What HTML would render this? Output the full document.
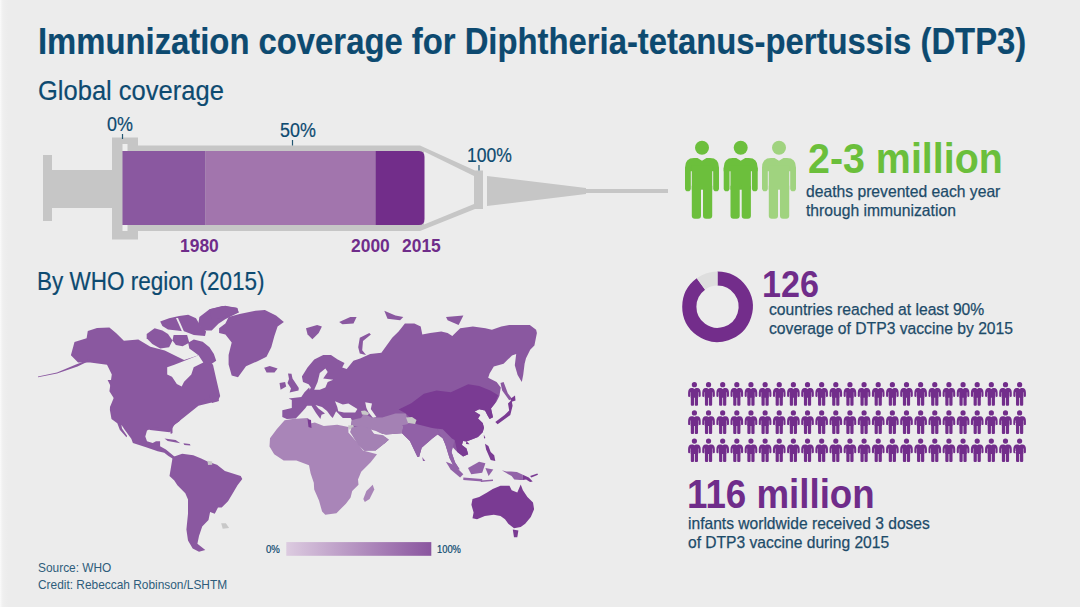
<!DOCTYPE html>
<html><head><meta charset="utf-8">
<style>
html,body{margin:0;padding:0;}
body{width:1080px;height:607px;background:#ececec;position:relative;overflow:hidden;font-family:"Liberation Sans",sans-serif;}
.t{position:absolute;white-space:nowrap;line-height:1;transform-origin:0 0;}
.b{font-weight:bold;}
.blue{color:#0d4a70;-webkit-text-stroke:0.2px #0d4a70;}
.body{color:#1d4b69;-webkit-text-stroke:0.25px #1d4b69;}
.src{color:#2e5d7b;}
.pur{color:#6f2c8a;}
.grn{color:#6bbf3b;}
svg{position:absolute;left:0;top:0;}
</style></head><body>
<div style="position:absolute;left:0;top:0;width:8px;height:607px;background:linear-gradient(to right,#fbfbfb 0px,#f4f4f4 1.5px,#efefef 3px,#ececec 8px)"></div>
<svg width="1080" height="607" viewBox="0 0 1080 607">
  <!-- syringe -->
  <g fill="#c6c6c6">
    <rect x="43" y="155" width="9" height="66"/>
    <rect x="52" y="170" width="60" height="38"/>
    <rect x="112" y="137.5" width="26" height="102"/>
    <path d="M122,145.5 L420,145.5 L475,170.5 L483,170.5 L483,209 L475,209 L420,231 L122,231 Z"/>
    <path d="M487,176 L586,188 L586,189 L668,189 L668,193 L586,193 L586,194 L487,206 Z"/>
  </g>
  <path d="M424,151.5 L474,176 L474,204 L424,224.5 Z" fill="#ececec"/>
  <rect x="122.5" y="144" width="5" height="7" fill="#eeeeee"/>
  <rect x="122.5" y="225" width="5" height="6" fill="#eeeeee"/>
  <rect x="122.5" y="151" width="83" height="74" fill="#8a58a0"/>
  <rect x="205.5" y="151" width="170" height="74" fill="#a275ad"/>
  <path d="M375.5,151 L419,151 Q424.5,151 424.5,157 L424.5,219 Q424.5,225 419,225 L375.5,225 Z" fill="#722d8a"/>
  <g stroke="#255873" stroke-width="1.2">
    <line x1="122.5" y1="134" x2="122.5" y2="139"/>
    <line x1="292.5" y1="140" x2="292.5" y2="145.5"/>
    <line x1="479" y1="165" x2="479" y2="170.5"/>
  </g>
  <!-- green people -->
  <defs><symbol id="pg" viewBox="-17.5 -7.5 35 79" overflow="visible">
<circle cx="0" cy="0" r="7"/>
<path d="M-17,20 Q-17,10.3 -8,10.3 L-4.5,10.3 L0,13 L4.5,10.3 L8,10.3 Q17,10.3 17,20 L17,23.5 L-17,23.5 Z"/>
<path d="M-17,20 L-11.2,20 L-11.2,40.5 Q-11.2,43.6 -14.1,43.6 Q-17,43.6 -17,40.5 Z"/>
<path d="M17,20 L11.2,20 L11.2,40.5 Q11.2,43.6 14.1,43.6 Q17,43.6 17,40.5 Z"/>
<rect x="-10.2" y="18" width="20.4" height="24"/>
<path d="M-10.2,38 L-1,38 L-1,68 Q-1,71 -4,71 L-7.2,71 Q-10.2,71 -10.2,68 Z"/>
<path d="M10.2,38 L1,38 L1,68 Q1,71 4,71 L7.2,71 Q10.2,71 10.2,68 Z"/>
</symbol></defs>
  <g fill="#6cbf3c">
    <use href="#pg" x="684.5" y="140.2" width="35" height="79"/>
    <use href="#pg" x="723.2" y="140.2" width="35" height="79"/>
  </g>
  <use href="#pg" x="761.5" y="140.2" width="35" height="79" fill="#a0d37f"/>
  <!-- grid --><defs><symbol id="pp" viewBox="-7 -3 14 24.5" overflow="visible">
<circle cx="0" cy="0" r="2.6"/>
<path d="M-6.3,8 Q-6.3,3.3 -2.8,3.3 L-1.5,3.3 L0,4.2 L1.5,3.3 L2.8,3.3 Q6.3,3.3 6.3,8 L6.3,11 Q6.3,12.2 5.2,12.2 Q4.2,12.2 4.2,11 L4.2,7.5 L3.8,7.5 L3.8,13 L3.6,13 L3.6,20 Q3.6,21 2.6,21 L1.2,21 Q0.4,21 0.4,20 L0.4,13 L-0.4,13 L-0.4,20 Q-0.4,21 -1.2,21 L-2.6,21 Q-3.6,21 -3.6,20 L-3.6,13 L-3.8,13 L-3.8,7.5 L-4.2,7.5 L-4.2,11 Q-4.2,12.2 -5.2,12.2 Q-6.3,12.2 -6.3,11 Z"/>
</symbol></defs><g fill="#722d8b"><use href="#pp" x="687.40" y="381.70" width="14" height="24.5"/><use href="#pp" x="701.54" y="381.70" width="14" height="24.5"/><use href="#pp" x="715.68" y="381.70" width="14" height="24.5"/><use href="#pp" x="729.82" y="381.70" width="14" height="24.5"/><use href="#pp" x="743.96" y="381.70" width="14" height="24.5"/><use href="#pp" x="758.10" y="381.70" width="14" height="24.5"/><use href="#pp" x="772.24" y="381.70" width="14" height="24.5"/><use href="#pp" x="786.38" y="381.70" width="14" height="24.5"/><use href="#pp" x="800.52" y="381.70" width="14" height="24.5"/><use href="#pp" x="814.66" y="381.70" width="14" height="24.5"/><use href="#pp" x="828.80" y="381.70" width="14" height="24.5"/><use href="#pp" x="842.94" y="381.70" width="14" height="24.5"/><use href="#pp" x="857.08" y="381.70" width="14" height="24.5"/><use href="#pp" x="871.22" y="381.70" width="14" height="24.5"/><use href="#pp" x="885.36" y="381.70" width="14" height="24.5"/><use href="#pp" x="899.50" y="381.70" width="14" height="24.5"/><use href="#pp" x="913.64" y="381.70" width="14" height="24.5"/><use href="#pp" x="927.78" y="381.70" width="14" height="24.5"/><use href="#pp" x="941.92" y="381.70" width="14" height="24.5"/><use href="#pp" x="956.06" y="381.70" width="14" height="24.5"/><use href="#pp" x="970.20" y="381.70" width="14" height="24.5"/><use href="#pp" x="984.34" y="381.70" width="14" height="24.5"/><use href="#pp" x="998.48" y="381.70" width="14" height="24.5"/><use href="#pp" x="1012.62" y="381.70" width="14" height="24.5"/><use href="#pp" x="687.40" y="409.90" width="14" height="24.5"/><use href="#pp" x="701.54" y="409.90" width="14" height="24.5"/><use href="#pp" x="715.68" y="409.90" width="14" height="24.5"/><use href="#pp" x="729.82" y="409.90" width="14" height="24.5"/><use href="#pp" x="743.96" y="409.90" width="14" height="24.5"/><use href="#pp" x="758.10" y="409.90" width="14" height="24.5"/><use href="#pp" x="772.24" y="409.90" width="14" height="24.5"/><use href="#pp" x="786.38" y="409.90" width="14" height="24.5"/><use href="#pp" x="800.52" y="409.90" width="14" height="24.5"/><use href="#pp" x="814.66" y="409.90" width="14" height="24.5"/><use href="#pp" x="828.80" y="409.90" width="14" height="24.5"/><use href="#pp" x="842.94" y="409.90" width="14" height="24.5"/><use href="#pp" x="857.08" y="409.90" width="14" height="24.5"/><use href="#pp" x="871.22" y="409.90" width="14" height="24.5"/><use href="#pp" x="885.36" y="409.90" width="14" height="24.5"/><use href="#pp" x="899.50" y="409.90" width="14" height="24.5"/><use href="#pp" x="913.64" y="409.90" width="14" height="24.5"/><use href="#pp" x="927.78" y="409.90" width="14" height="24.5"/><use href="#pp" x="941.92" y="409.90" width="14" height="24.5"/><use href="#pp" x="956.06" y="409.90" width="14" height="24.5"/><use href="#pp" x="970.20" y="409.90" width="14" height="24.5"/><use href="#pp" x="984.34" y="409.90" width="14" height="24.5"/><use href="#pp" x="998.48" y="409.90" width="14" height="24.5"/><use href="#pp" x="1012.62" y="409.90" width="14" height="24.5"/><use href="#pp" x="687.40" y="438.10" width="14" height="24.5"/><use href="#pp" x="701.54" y="438.10" width="14" height="24.5"/><use href="#pp" x="715.68" y="438.10" width="14" height="24.5"/><use href="#pp" x="729.82" y="438.10" width="14" height="24.5"/><use href="#pp" x="743.96" y="438.10" width="14" height="24.5"/><use href="#pp" x="758.10" y="438.10" width="14" height="24.5"/><use href="#pp" x="772.24" y="438.10" width="14" height="24.5"/><use href="#pp" x="786.38" y="438.10" width="14" height="24.5"/><use href="#pp" x="800.52" y="438.10" width="14" height="24.5"/><use href="#pp" x="814.66" y="438.10" width="14" height="24.5"/><use href="#pp" x="828.80" y="438.10" width="14" height="24.5"/><use href="#pp" x="842.94" y="438.10" width="14" height="24.5"/><use href="#pp" x="857.08" y="438.10" width="14" height="24.5"/><use href="#pp" x="871.22" y="438.10" width="14" height="24.5"/><use href="#pp" x="885.36" y="438.10" width="14" height="24.5"/><use href="#pp" x="899.50" y="438.10" width="14" height="24.5"/><use href="#pp" x="913.64" y="438.10" width="14" height="24.5"/><use href="#pp" x="927.78" y="438.10" width="14" height="24.5"/><use href="#pp" x="941.92" y="438.10" width="14" height="24.5"/><use href="#pp" x="956.06" y="438.10" width="14" height="24.5"/><use href="#pp" x="970.20" y="438.10" width="14" height="24.5"/><use href="#pp" x="984.34" y="438.10" width="14" height="24.5"/><use href="#pp" x="998.48" y="438.10" width="14" height="24.5"/><use href="#pp" x="1012.62" y="438.10" width="14" height="24.5"/></g><!--endgrid-->
  <!-- donut -->
  <path d="M717.5,278.5 A28.2,28.2 0 1 1 700.92,283.89" fill="none" stroke="#732d8b" stroke-width="14.2"/><path d="M700.92,283.89 A28.2,28.2 0 0 1 717.5,278.5" fill="none" stroke="#dedede" stroke-width="14.2"/>
  <g id="map"><path d="M87.8,331.1L97.0,328.0L109.4,327.5L116.0,333.0L123.9,340.7L138.3,339.5L150.4,346.8L164.8,350.4L174.4,355.2L184.1,360.0L198.5,355.2L206.0,358.0L213.0,364.8L216.0,378.0L220.2,396.1L217.8,400.9L198.5,405.7L174.4,425.0L169.6,432.2L150.0,430.0L115.0,400.0L109.4,391.3L111.8,374.4L107.0,364.8L90.2,362.4L78.1,362.4L70.9,355.2L74.5,341.9L86.6,338.3Z" fill="#8a58a0"/><path d="M38.0,376.4L57.0,372.5L76.0,364.6L90.2,359.0L91.0,360.1L77.5,366.5L57.0,373.6L38.0,377.2Z" fill="#8a58a0"/><path d="M199.4,317.0L209.5,309.2L225.2,305.8L237.5,308.1L238.6,312.6L225.2,319.3L218.4,323.8L211.7,330.5L202.7,330.5L198.3,323.8Z" fill="#8a58a0"/><path d="M160.2,321.5L169.1,318.2L179.2,315.9L188.2,314.8L196.0,318.2L200.5,326.0L206.1,331.6L205.0,336.1L193.8,335.0L184.8,331.6L177.0,330.5L168.0,329.4L162.4,326.0Z" fill="#8a58a0"/><path d="M176.0,318.0L178.0,318.0L186.0,336.0L184.0,336.0Z" fill="#ececec"/><path d="M188.2,342.8L193.8,339.5L202.7,341.7L209.5,347.3L213.9,354.0L216.2,360.7L209.5,365.2L202.7,358.5L193.8,351.8L189.3,348.4Z" fill="#8a58a0"/><path d="M146.7,333.9L154.6,328.3L162.4,330.5L168.0,333.9L172.5,340.6L169.1,347.3L160.2,348.4L152.3,343.9L146.7,338.3Z" fill="#8a58a0"/><path d="M173.6,335.0L187.1,335.0L189.3,342.8L182.6,346.2L175.9,345.1L172.5,340.6Z" fill="#8a58a0"/><path d="M107.6,380.0L112.3,389.5L113.9,397.4L110.0,406.9L109.9,410.0L111.5,419.1L117.3,423.2L119.8,429.8L126.4,437.2L127.2,436.0L122.0,428.5L121.4,424.8L124.7,429.8L131.3,438.8L132.9,443.0L145.3,447.1L157.7,451.2L164.3,452.8L168.4,456.1L174.1,459.4L175.6,457.5L165.9,449.5L160.1,446.2L160.1,441.3L156.0,441.3L152.7,443.0L147.0,441.3L145.3,436.4L147.0,430.6L152.7,428.1L159.3,427.3L169.2,427.3L170.8,433.9L172.5,433.1L172.5,425.7L179.1,421.5L186.6,411.6L194.5,406.9L202.5,400.6L208.0,399.0L208.0,380.0Z" fill="#8a58a0"/><path d="M164.5,438.5L175.6,440.1L180.3,443.3L167.7,440.9Z" fill="#8a58a0"/><path d="M183.5,443.3L189.8,444.0L190.6,445.6L184.3,445.1Z" fill="#8a58a0"/><path d="M209.0,395.0L217.0,393.0L219.0,401.0L212.0,403.0Z" fill="#8a58a0"/><path d="M167.2,367.2L174.4,364.8L186.5,360.0L198.5,355.2L203.3,362.4L193.7,367.2L191.3,374.4L184.1,381.7L181.7,386.5L176.8,384.1L172.0,376.8L167.2,374.4Z" fill="#ececec"/><path d="M219.1,328.2L225.4,323.5L228.6,317.1L239.6,314.0L255.4,310.8L264.9,310.0L276.0,315.6L283.9,321.9L277.6,326.6L274.4,336.1L271.3,347.2L266.5,356.7L257.0,361.4L246.0,366.2L238.0,377.2L231.7,375.6L228.6,364.6L228.6,355.1L231.7,342.4L225.4,334.5L219.1,333.0Z" fill="#8a58a0"/><path d="M209.6,309.2L222.2,306.1L236.5,307.7L238.8,312.4L228.6,315.6L217.5,318.7L211.2,318.7Z" fill="#8a58a0"/><path d="M306.0,328.2L317.1,325.0L321.9,326.6L318.7,333.0L312.4,339.3L307.6,334.5Z" fill="#8a58a0"/><path d="M339.2,321.9L350.3,317.1L356.6,317.1L353.5,323.5L342.4,324.3Z" fill="#8a58a0"/><path d="M358.2,347.2L359.8,337.7L369.3,333.0L370.9,334.5L363.0,340.9L362.2,350.3L366.1,355.1L359.8,353.5Z" fill="#8a58a0"/><path d="M264.2,367.7L269.7,366.1L277.6,368.5L274.5,372.4L266.6,372.4Z" fill="#8a58a0"/><path d="M288.0,373.5L291.5,373.8L292.5,378.6L295.5,383.0L298.8,388.0L298.5,390.5L289.6,392.6L291.0,388.5L287.5,383.0L289.0,379.0Z" fill="#8a58a0"/><path d="M279.5,383.1L285.1,382.0L286.2,386.5L280.6,389.8Z" fill="#8a58a0"/><path d="M384.3,310.8L395.4,315.6L403.3,317.1L400.1,320.3L387.5,318.7Z" fill="#8a58a0"/><path d="M446.0,317.1L463.4,315.6L458.6,325.0L447.6,320.3Z" fill="#8a58a0"/><path d="M309.7,389.8L310.9,387.6L308.6,384.2L303.0,382.0L301.9,376.4L307.5,367.4L314.2,359.6L323.2,355.1L331.0,355.1L337.7,359.6L344.5,362.9L342.2,367.4L346.7,369.1L353.4,360.7L360.2,358.4L370.2,354.0L381.4,352.8L392.2,337.7L398.6,331.4L404.9,323.5L414.4,323.5L420.7,326.6L422.3,334.5L430.2,333.0L441.3,331.4L447.6,333.0L452.3,336.1L460.2,328.2L472.9,326.6L485.5,328.2L491.9,329.8L501.3,326.6L509.2,325.0L520.3,325.0L529.8,325.0L536.1,329.8L536.9,333.0L534.4,345.6L530.2,349.8L526.0,358.2L524.6,363.8L523.2,375.0L521.8,382.0L517.6,375.0L514.8,365.2L516.2,354.0L512.0,355.4L507.8,359.6L503.6,363.8L493.8,366.6L489.6,373.6L488.2,377.8L496.6,382.0L500.8,387.6L499.4,396.0L496.6,401.6L491.0,408.6L493.0,417.3L489.6,419.0L487.3,415.0L485.0,410.4L479.2,409.2L474.6,411.5L480.3,415.0L478.0,418.4L482.7,423.1L484.0,427.7L482.7,432.3L478.0,436.9L472.3,439.2L466.5,441.5L463.1,440.9L461.9,445.0L466.5,448.4L468.2,454.2L463.1,456.5L457.3,451.9L452.7,447.3L451.5,451.9L455.0,462.2L459.6,469.2L456.5,469.5L453.8,466.4L449.5,458.0L445.5,445.1L442.8,438.5L437.5,434.5L432.3,438.5L421.7,447.7L419.1,457.0L417.5,457.0L409.9,441.1L402.0,433.2L386.1,434.5L379.5,433.2L388.8,439.8L375.6,450.4L365.2,450.5L359.6,441.5L350.7,428.1L351.8,420.3L350.7,418.0L342.8,418.0L336.1,411.3L335.0,413.5L332.7,418.0L330.5,415.8L327.0,411.0L322.0,407.0L315.5,405.0L318.5,408.5L325.0,413.5L321.5,414.7L320.4,419.1L316.0,413.0L311.5,405.7L307.0,405.7L305.5,408.0L301.0,413.0L295.8,418.5L286.8,419.1L282.3,416.9L282.3,410.2L291.8,408.0L291.8,400.1L288.7,398.5L301.3,396.9L304.5,392.2L309.2,387.4Z" fill="#8a58a0"/><path d="M319.8,373.0L325.4,368.5L327.7,371.9L323.2,378.6L333.3,379.7L327.7,382.0L325.4,387.6L319.8,389.8L314.2,389.8L317.6,382.0Z" fill="#ececec"/><path d="M335.0,401.2L342.8,404.6L348.4,403.4L357.4,409.0L355.2,412.4L344.0,412.4L338.3,411.3L337.2,406.8Z" fill="#ececec"/><path d="M365.2,402.3L372.0,403.4L370.8,409.0L376.4,416.9L373.1,418.0L368.6,412.4L366.4,407.9Z" fill="#ececec"/><path d="M370.5,429.5L376.0,431.0L383.0,434.5L386.0,436.5L381.0,437.0L374.0,434.0Z" fill="#ececec"/><path d="M503.6,382.0L507.8,393.2L512.0,398.8L509.2,400.2L502.2,390.4L500.5,383.0Z" fill="#8a58a0"/><path d="M351.8,420.3L356.0,419.0L361.0,418.0L364.0,413.5L371.6,417.4L382.2,417.4L395.4,413.5L405.9,413.5L408.5,424.0L403.3,426.6L402.0,433.2L386.1,434.5L379.5,433.2L370.3,430.6L363.7,428.0L357.1,426.6L351.0,425.5Z" fill="#a481b4"/><path d="M350.7,428.1L361.2,425.8L370.7,429.0L373.9,433.7L383.3,435.3L388.8,439.8L384.9,443.2L375.6,450.4L365.2,450.5L359.6,441.5Z" fill="#a481b4"/><path d="M370.5,429.5L376.0,431.0L383.0,434.5L386.0,436.5L381.0,437.0L374.0,434.0Z" fill="#ececec"/><path d="M402.0,425.3L408.5,424.0L416.5,424.0L432.3,428.0L437.5,429.3L440.2,434.5L437.5,434.5L432.3,438.5L421.7,447.7L419.1,457.0L417.5,457.0L409.9,441.1L402.0,433.2L403.3,426.6Z" fill="#9161a7"/><path d="M437.5,429.3L442.8,429.3L452.0,438.5L454.7,440.0L452.7,447.3L451.5,451.9L455.0,462.2L459.6,469.2L456.5,469.5L453.8,466.4L449.5,458.0L445.5,445.1L442.8,438.5L440.2,434.5Z" fill="#9263a8"/><path d="M398.6,409.6L411.3,403.3L423.9,393.8L436.6,390.6L450.8,392.2L468.2,384.3L479.2,385.9L490.3,390.6L498.2,395.3L495.1,403.3L491.0,408.6L493.0,417.3L489.6,419.0L487.3,415.0L485.0,410.4L479.2,409.2L474.6,411.5L480.3,415.0L478.0,418.4L482.7,423.1L484.0,427.7L482.7,432.3L478.0,436.9L472.3,439.2L466.5,441.5L463.1,440.9L461.9,445.0L466.5,448.4L468.2,454.2L463.1,456.5L457.3,451.9L454.7,440.0L452.0,438.5L442.8,429.3L432.3,428.0L416.5,424.0L405.9,413.5Z" fill="#7a3b93"/><path d="M361.0,411.0L365.0,410.5L369.0,413.0L368.0,415.0L362.0,414.5Z" fill="#c8c8c8"/><path d="M406.0,417.5L412.0,417.0L416.5,420.0L415.0,424.0L408.0,423.0Z" fill="#c8c8c8"/><path d="M348.0,425.5L353.0,425.0L354.5,428.5L349.0,429.5Z" fill="#c8c8c8"/><path d="M284.6,420.3L292.4,419.1L308.1,418.0L310.3,423.6L314.8,422.5L323.8,425.9L337.2,424.7L348.4,427.0L348.4,432.6L357.4,442.7L363.0,450.5L377.0,454.3L370.7,462.2L361.2,471.7L358.0,479.6L358.5,484.7L352.2,491.1L350.6,497.4L345.9,503.7L336.4,513.2L325.3,514.8L322.1,511.6L319.0,500.6L314.2,489.5L313.8,482.7L310.6,473.3L309.0,465.3L296.4,460.6L283.7,460.6L274.2,454.3L269.5,446.4L270.0,438.2L276.7,429.2Z" fill="#a985b8"/><path d="M363.3,499.0L366.4,491.1L372.7,484.7L374.3,489.5L369.6,499.0L364.8,502.1Z" fill="#a985b8"/><path d="M307.5,419.1L311.0,420.0L311.5,428.1L308.5,427.0Z" fill="#7a3b93"/><path d="M351.7,427.4L361.2,425.8L370.7,429.0L373.9,433.7L383.3,435.3L388.1,440.0L384.9,443.2L373.9,448.0L364.4,451.1L358.0,444.8L350.1,432.1Z" fill="#a481b4"/><path d="M172.7,456.9L182.2,453.7L193.3,455.3L201.2,458.5L207.5,461.6L217.0,464.8L224.9,471.1L240.7,475.9L242.3,479.0L237.5,485.3L232.8,493.3L228.0,501.2L221.7,507.5L218.0,507.4L214.8,513.7L210.1,512.1L208.5,520.0L202.2,526.4L199.0,535.9L197.4,543.8L205.3,550.1L199.0,551.7L192.7,548.5L188.0,540.6L186.4,529.5L188.0,513.7L188.0,499.5L185.3,493.3L177.4,485.3L174.3,480.6L169.5,475.9Z" fill="#8a58a0"/><path d="M221.2,523.2L225.9,523.2L229.1,528.0L222.7,528.7Z" fill="#c8c8c8"/><path d="M207.5,460.8L212.2,461.5L212.2,464.8L208.0,465.0Z" fill="#c8c8c8"/><path d="M472.5,499.1L479.2,496.9L487.1,492.4L492.7,489.0L500.5,485.7L509.5,485.7L511.7,490.2L517.3,492.4L520.7,484.6L522.9,490.2L527.4,496.9L533.0,502.5L534.1,509.2L530.8,517.1L525.2,523.8L520.7,527.1L514.0,528.3L508.3,523.8L505.0,519.3L500.5,515.9L493.8,514.8L484.8,515.9L477.0,519.3L472.5,518.2L473.6,512.6L471.4,504.7Z" fill="#7a3b93"/><path d="M512.8,529.4L518.4,530.5L517.3,537.2L514.0,537.2Z" fill="#7a3b93"/><path d="M501.8,470.2L506.4,471.5L511.0,471.5L516.9,472.1L522.8,474.8L523.0,480.0L520.2,480.0L514.3,479.4L511.6,476.1Z" fill="#9263a8"/><path d="M522.8,474.8L528.8,477.4L532.7,481.4L530.1,482.0L526.1,479.4L523.0,480.0Z" fill="#7a3b93"/><path d="M530.1,476.1L537.4,473.5L538.0,474.8L531.4,477.4Z" fill="#7a3b93"/><path d="M480.5,480.5L493.0,479.5L493.0,481.0L481.0,482.0Z" fill="#9263a8"/><path d="M468.0,468.0L479.1,461.7L485.4,463.3L482.2,472.7L471.2,474.3Z" fill="#9263a8"/><path d="M445.9,461.7L453.8,464.8L463.3,474.3L460.1,477.5L450.6,469.6Z" fill="#9263a8"/><path d="M463.3,477.5L482.2,479.1L482.2,481.4L463.3,479.9Z" fill="#9263a8"/><path d="M485.4,468.0L493.3,469.6L488.6,475.9Z" fill="#9263a8"/><path d="M485.0,443.8L488.4,446.1L490.7,451.9L494.2,455.3L495.3,461.1L490.7,459.9L486.1,449.6Z" fill="#7a3b93"/><path d="M495.3,421.9L504.6,415.0L509.2,410.4L508.0,403.5L511.5,400.0L512.6,405.8L510.3,415.0L497.6,424.2Z" fill="#7a3b93"/><path d="M510.6,398.8L515.0,395.5L515.5,400.5L511.0,402.0Z" fill="#7a3b93"/><path d="M483.8,434.8L485.4,438.0L484.0,438.5Z" fill="#7a3b93"/><path d="M422.1,456.9L425.3,460.9L423.0,461.0Z" fill="#9161a7"/><path d="M466.4,441.1L469.6,444.3L466.0,444.0Z" fill="#7a3b93"/></g><!--endmap-->
  <!-- legend -->
  <defs>
    <linearGradient id="lg" x1="0" x2="1" y1="0" y2="0">
      <stop offset="0" stop-color="#dccbe0"/>
      <stop offset="1" stop-color="#8a559f"/>
    </linearGradient>
  </defs>
  <rect x="286.3" y="542.1" width="145" height="13.7" fill="url(#lg)"/>
</svg>

<div class="t b blue" style="left:38px;top:23.7px;font-size:36.5px;transform:scaleX(0.899)">Immunization coverage for Diphtheria-tetanus-pertussis (DTP3)</div>
<div class="t blue" style="left:38.4px;top:76.8px;font-size:27.5px;transform:scaleX(0.928)">Global coverage</div>
<div class="t blue" style="left:106.5px;top:115px;font-size:19.5px;transform:scaleX(0.92)">0%</div>
<div class="t blue" style="left:279.7px;top:121.4px;font-size:19.5px;transform:scaleX(0.918)">50%</div>
<div class="t blue" style="left:466.9px;top:146.4px;font-size:19.5px;transform:scaleX(0.90)">100%</div>
<div class="t b pur" style="left:179.9px;top:237px;font-size:18px;transform:scaleX(0.968)">1980</div>
<div class="t b pur" style="left:350.5px;top:237px;font-size:18px;transform:scaleX(0.968)">2000</div>
<div class="t b pur" style="left:402.3px;top:237px;font-size:18px;transform:scaleX(0.968)">2015</div>
<div class="t blue" style="left:37.3px;top:268.6px;font-size:25px;transform:scaleX(0.9)">By WHO region (2015)</div>

<div class="t b grn" style="left:807.5px;top:136.9px;font-size:43px;transform:scaleX(0.916)">2-3 million</div>
<div class="t body" style="left:806.2px;top:182.1px;font-size:16.5px;line-height:18.4px;transform:scaleX(0.95)">deaths prevented each year<br>through immunization</div>

<div class="t b pur" style="left:762.3px;top:265.7px;font-size:37.7px;transform:scaleX(0.905)">126</div>
<div class="t body" style="left:769.4px;top:300.1px;font-size:16.3px;line-height:18.5px;transform:scaleX(0.963)">countries reached at least 90%<br>coverage of DTP3 vaccine by 2015</div>

<div class="t b pur" style="left:687px;top:473.5px;font-size:41.4px;transform:scaleX(0.887)">116 million</div>
<div class="t body" style="left:688.3px;top:514px;font-size:16.5px;line-height:18.5px;transform:scaleX(0.945)">infants worldwide received 3 doses<br>of DTP3 vaccine during 2015</div>

<div class="t blue" style="left:266.4px;top:544.8px;font-size:10px;transform:scaleX(0.96)">0%</div>
<div class="t blue" style="left:437.1px;top:544.8px;font-size:10px;transform:scaleX(0.935)">100%</div>
<div class="t src" style="left:37.8px;top:559.2px;font-size:13px;line-height:17.2px;transform:scaleX(0.915)">Source: WHO<br>Credit: Rebeccah Robinson/LSHTM</div>
</body></html>
